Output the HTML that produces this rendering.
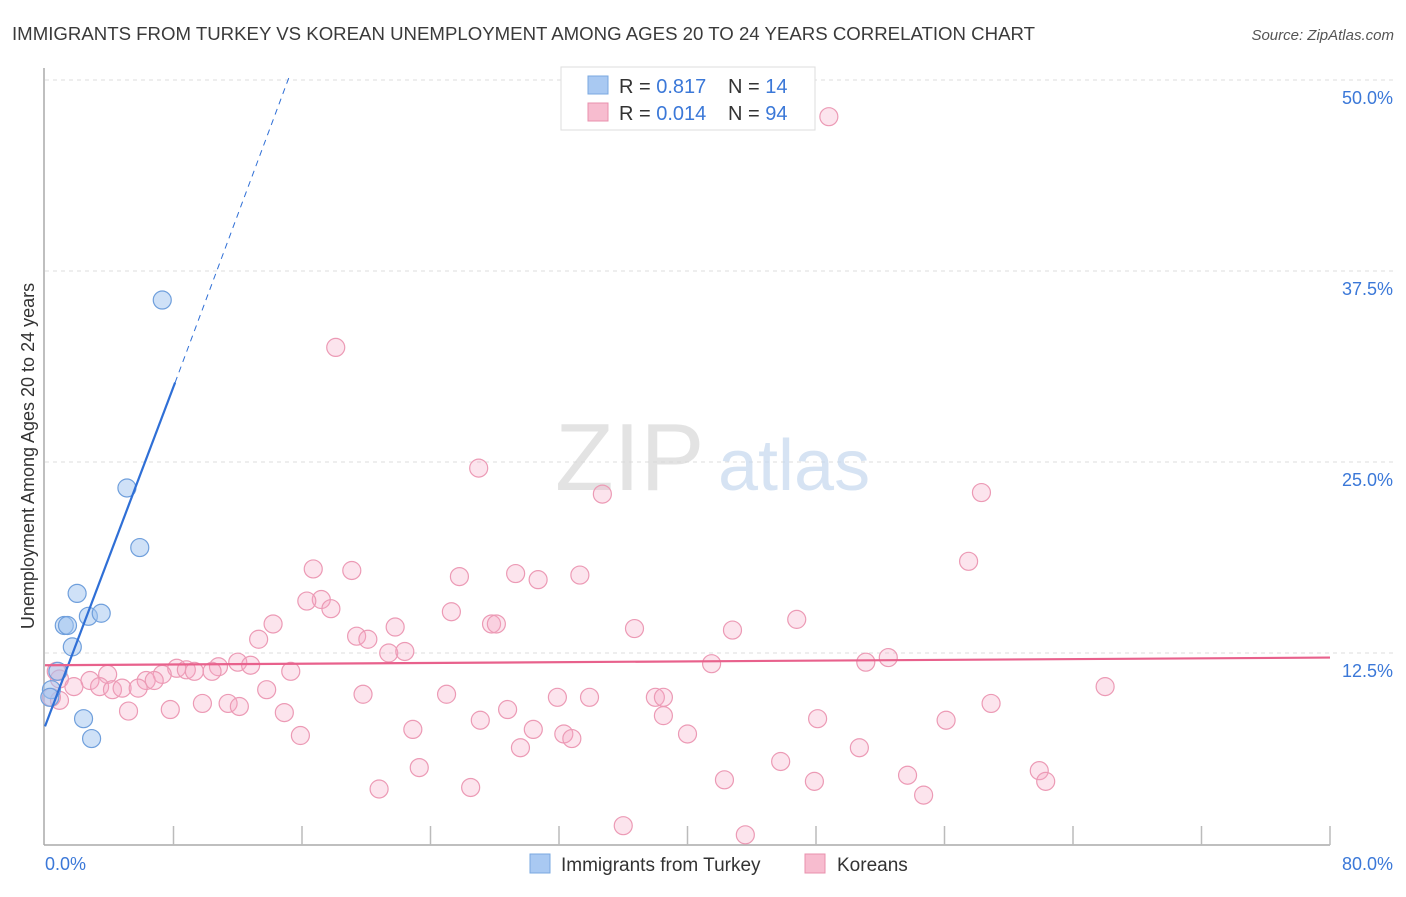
<!DOCTYPE html>
<html><head><meta charset="utf-8">
<style>
body{margin:0;background:#fff;font-family:"Liberation Sans",sans-serif;}
svg text{font-family:"Liberation Sans",sans-serif;}
</style></head>
<body>
<svg id="chart" width="1406" height="892" viewBox="0 0 1406 892" xmlns="http://www.w3.org/2000/svg">
<text x="12" y="40" font-size="18" fill="#3a3a3a" textLength="1023" lengthAdjust="spacingAndGlyphs">IMMIGRANTS FROM TURKEY VS KOREAN UNEMPLOYMENT AMONG AGES 20 TO 24 YEARS CORRELATION CHART</text>
<text x="1394" y="40" font-size="15" fill="#555" font-style="italic" text-anchor="end">Source: ZipAtlas.com</text>
<g id="grid"></g>
<g>
<text x="555" y="490" font-size="96" fill="#d8d8d8" font-family="Liberation Serif" opacity="0.7">ZIP</text>
<text x="718" y="490" font-size="72" fill="#c5d8ee" opacity="0.7">atlas</text>
</g>
<line x1="44" y1="68" x2="44" y2="845" stroke="#aaa" stroke-width="1.5"/>
<line x1="44" y1="845" x2="1330" y2="845" stroke="#aaa" stroke-width="1.5"/>
<g id="xticks"></g>
<g id="pink"></g>
<g id="blue"></g>
<g id="lines"></g>
<text x="45" y="870" font-size="18" fill="#3b78d8">0.0%</text>
<text x="1393" y="870" font-size="18" fill="#3b78d8" text-anchor="end">80.0%</text>
<text transform="translate(34,456) rotate(-90)" font-size="18" fill="#333" text-anchor="middle">Unemployment Among Ages 20 to 24 years</text>
<g>
<rect x="561" y="67" width="254" height="63" fill="#fff" stroke="#ddd"/>
<rect x="588" y="76" width="20" height="18" fill="#a9c9f2" stroke="#7aa8e0"/>
<rect x="588" y="103" width="20" height="18" fill="#f7bccf" stroke="#e990ad"/>
<text x="619" y="93" font-size="20" fill="#333">R = <tspan fill="#3b78d8">0.817</tspan><tspan x="728">N = </tspan><tspan fill="#3b78d8">14</tspan></text>
<text x="619" y="120" font-size="20" fill="#333">R = <tspan fill="#3b78d8">0.014</tspan><tspan x="728">N = </tspan><tspan fill="#3b78d8">94</tspan></text>
</g>
<g>
<rect x="530" y="854" width="20" height="19" fill="#a9c9f2" stroke="#7aa8e0"/>
<text x="561" y="871" font-size="19" fill="#333">Immigrants from Turkey</text>
<rect x="805" y="854" width="20" height="19" fill="#f7bccf" stroke="#e990ad"/>
<text x="837" y="871" font-size="19" fill="#333">Koreans</text>
</g>
</svg>
<script>
const yTicks=[12.5,25,37.5,50];
const yTickLabels=["12.5%","25.0%","37.5%","50.0%"];
const xTicks=[8,16,24,32,40,48,56,64,72,80];
const turkeyX=[7.3,5.1,5.9,2.0,2.7,3.5,1.2,1.4,1.7,0.8,0.4,0.3,2.4,2.9];
const turkeyY=[35.6,23.3,19.4,16.4,14.9,15.1,14.3,14.3,12.9,11.3,10.1,9.6,8.2,6.9];
const koreaX=[18.1,27.0,34.7,58.3,57.5,16.7,19.1,25.8,29.3,30.7,33.3,17.2,16.3,17.8,25.3,14.2,27.8,28.1,21.8,36.7,42.8,46.8,19.4,20.1,13.3,21.4,22.4,12.0,12.8,10.8,8.2,8.8,9.3,10.4,7.3,6.3,6.8,3.9,2.8,0.9,0.7,1.8,3.4,4.2,4.8,5.8,13.8,15.3,19.8,25.0,31.9,33.9,38.0,38.5,41.5,51.1,52.5,66.0,7.8,9.8,11.4,12.1,5.2,14.9,15.9,22.9,27.1,28.8,30.4,32.3,32.8,38.5,40.0,48.1,56.1,58.9,29.6,50.7,23.3,45.8,42.3,47.9,53.7,61.9,62.3,20.8,26.5,54.7,36.0,43.6,48.8,0.9,0.4,40.4];
const koreaY=[32.5,24.6,22.9,23.0,18.5,18.0,17.9,17.5,17.7,17.3,17.6,16.0,15.9,15.4,15.2,14.4,14.4,14.4,14.2,14.1,14.0,14.7,13.6,13.4,13.4,12.5,12.6,11.9,11.7,11.6,11.5,11.4,11.3,11.3,11.1,10.7,10.7,11.1,10.7,10.8,11.3,10.3,10.3,10.1,10.2,10.2,10.1,11.3,9.8,9.8,9.6,9.6,9.6,9.6,11.8,11.9,12.2,10.3,8.8,9.2,9.2,9.0,8.7,8.6,7.1,7.5,8.1,8.8,7.5,7.2,6.9,8.4,7.2,8.2,8.1,9.2,6.3,6.3,5.0,5.4,4.2,4.1,4.5,4.8,4.1,3.6,3.7,3.2,1.2,0.6,47.6,9.4,9.6,49.8];
const turkeyTrend=[[0,7.7],[8.1,30.2]];
const turkeyTrendExt=[[8.1,30.2],[15.2,50.2]];
const koreaTrend=[[0,11.7],[80,12.2]];

const NS="http://www.w3.org/2000/svg";
const sx=v=>45+v/80*1285;
const sy=v=>844-v/50*764;
function mk(tag,attrs,parent){const e=document.createElementNS(NS,tag);for(const k in attrs)e.setAttribute(k,attrs[k]);parent.appendChild(e);return e;}
const grid=document.getElementById('grid');
yTicks.forEach((t,i)=>{
  const l=mk('line',{x1:45,x2:1393,y1:sy(t),y2:sy(t),stroke:'#ddd','stroke-dasharray':'4,4'},grid);
  
  
  const tx=mk('text',{x:1393,y:sy(t)+24,'font-size':18,fill:'#3b78d8','text-anchor':'end'},grid);
  tx.textContent=yTickLabels[i];
  
  
});
const xt=document.getElementById('xticks');
xTicks.forEach(t=>{
  const l=mk('line',{x1:sx(t),x2:sx(t),y1:826,y2:845,stroke:'#bbb','stroke-width':1.5},xt);
  
  
});
const pg=document.getElementById('pink');
koreaX.forEach((x,i)=>{
  const c=mk('circle',{cx:sx(x),cy:sy(koreaY[i]),r:9,fill:'rgba(244,166,194,0.3)',stroke:'#ec9ab5','stroke-width':1.2},pg);
  
  
});
const bg=document.getElementById('blue');
turkeyX.forEach((x,i)=>{
  const c=mk('circle',{cx:sx(x),cy:sy(turkeyY[i]),r:9,fill:'rgba(160,196,240,0.5)',stroke:'#6f9fdc','stroke-width':1.2},bg);
  
  
});
const lg=document.getElementById('lines');
const a=mk('line',{x1:sx(turkeyTrend[0][0]),y1:sy(turkeyTrend[0][1]),x2:sx(turkeyTrend[1][0]),y2:sy(turkeyTrend[1][1]),stroke:'#2f6fd6','stroke-width':2.2},lg);


const b=mk('line',{x1:sx(turkeyTrendExt[0][0]),y1:sy(turkeyTrendExt[0][1]),x2:sx(turkeyTrendExt[1][0]),y2:sy(turkeyTrendExt[1][1]),stroke:'#2f6fd6','stroke-width':1,'stroke-dasharray':'6,5'},lg);


const k=mk('line',{x1:sx(koreaTrend[0][0]),y1:sy(koreaTrend[0][1]),x2:sx(koreaTrend[1][0]),y2:sy(koreaTrend[1][1]),stroke:'#e8618c','stroke-width':2.2},lg);


</script>
</body></html>
